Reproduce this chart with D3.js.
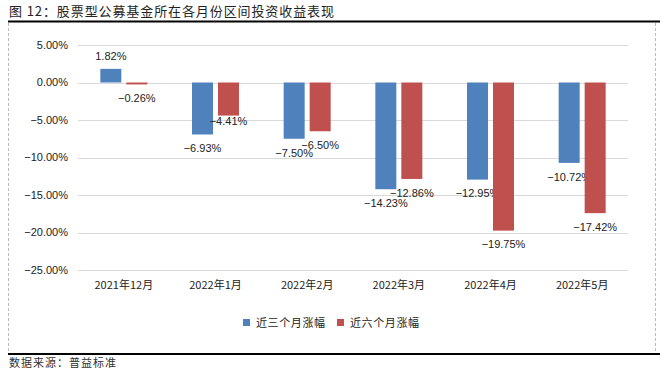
<!DOCTYPE html>
<html>
<head>
<meta charset="utf-8">
<script src="https://cdn.jsdelivr.net/npm/d3@7"></script>
<style>
  body { margin: 0; background: #fff; }
  svg { display: block; }
  text { font-family: "Liberation Sans", Arial, "Noto Sans CJK SC", sans-serif; }
  .cjk { font-family: "Noto Sans CJK SC", sans-serif; }
</style>
</head>
<body>
<div id="chart"></div>
<script>
// Chart data.
var months = ["2021年12月", "2022年1月", "2022年2月", "2022年3月", "2022年4月", "2022年5月"];
var seriesNames = ["近三个月涨幅", "近六个月涨幅"];
var threeMonth = [1.82, -6.93, -7.50, -14.23, -12.95, -10.72];
var sixMonth = [-0.26, -4.41, -6.50, -12.86, -19.75, -17.42];
var yTicks = [5, 0, -5, -10, -15, -20, -25];

// Configuration.
var width = 668,
    height = 374,
    plotLeft = 78,
    plotRight = 628,
    plotTop = 45,
    plotBottom = 270,
    barWidth = 21,
    barGap = 5,
    colors = ["#4F81BD", "#C0504D"];

var svg = d3.select("#chart").append("svg")
  .attr("width", width)
  .attr("height", height);

// Title and frame.
svg.append("text")
  .attr("class", "cjk")
  .attr("x", 9)
  .attr("y", 16)
  .attr("font-size", 13)
  .attr("letter-spacing", 0.9)
  .attr("fill", "#222")
  .text("图 12：股票型公募基金所在各月份区间投资收益表现");

svg.append("line")
  .attr("x1", 8).attr("x2", 660)
  .attr("y1", 21.5).attr("y2", 21.5)
  .attr("stroke", "#000").attr("stroke-width", 2);

svg.append("line")
  .attr("x1", 8).attr("x2", 660)
  .attr("y1", 354).attr("y2", 354)
  .attr("stroke", "#000").attr("stroke-width", 2);

[8.5, 655.5].forEach(function (x){
  svg.append("line")
    .attr("x1", x).attr("x2", x)
    .attr("y1", 23).attr("y2", 353)
    .attr("stroke", "#bbb")
    .attr("stroke-dasharray", "3,2");
});

svg.append("text")
  .attr("class", "cjk")
  .attr("x", 9)
  .attr("y", 367)
  .attr("font-size", 11)
  .attr("letter-spacing", 1)
  .attr("fill", "#333")
  .text("数据来源：普益标准");

// Scales.
var x = d3.scaleBand()
  .domain(months)
  .range([plotLeft, plotRight]);

var y = d3.scaleLinear()
  .domain([-25, 5])
  .range([plotBottom, plotTop]);

var pct = function (v){ return d3.format(".2f")(v).replace("-", "\u2212") + "%"; };

// Grid lines and y tick labels.
var grid = svg.append("g");
grid.selectAll("line")
  .data(yTicks)
  .enter().append("line")
    .attr("x1", plotLeft).attr("x2", plotRight)
    .attr("y1", function (d){ return Math.round(y(d)) + 0.5; })
    .attr("y2", function (d){ return Math.round(y(d)) + 0.5; })
    .attr("stroke", "#d9d9d9");

grid.selectAll("text")
  .data(yTicks)
  .enter().append("text")
    .attr("x", 68)
    .attr("y", function (d){ return y(d); })
    .attr("dy", "0.35em")
    .attr("text-anchor", "end")
    .attr("font-size", 11)
    .attr("fill", "#222")
    .text(pct);

// X labels.
svg.append("g").selectAll("text")
  .data(months)
  .enter().append("text")
    .attr("class", "cjk")
    .attr("x", function (d){ return x(d) + x.bandwidth() / 2; })
    .attr("y", 285)
    .attr("dy", "0.35em")
    .attr("text-anchor", "middle")
    .attr("font-size", 11)
    .attr("fill", "#222")
    .text(function (d){ return d; });

// Bars and value labels for each series.
[threeMonth, sixMonth].forEach(function (values, s){
  var offset = s === 0 ? -(barWidth + barGap / 2) : barGap / 2;
  var bx = function (d, i){ return x(months[i]) + x.bandwidth() / 2 + offset; };

  svg.append("g").selectAll("rect")
    .data(values)
    .enter().append("rect")
      .attr("x", bx)
      .attr("width", barWidth)
      .attr("y", function (d){ return y(Math.max(0, d)); })
      .attr("height", function (d){ return Math.abs(y(d) - y(0)); })
      .attr("fill", colors[s]);

  svg.append("g").selectAll("text")
    .data(values)
    .enter().append("text")
      .attr("x", function (d, i){ return bx(d, i) + barWidth / 2; })
      .attr("y", function (d, i){
        // the -4.41% label sits tighter to its bar in the original
        var pad = (s === 1 && i === 1) ? 6 : 14;
        return d >= 0 ? y(d) - 13 : y(d) + pad;
      })
      .attr("dy", "0.35em")
      .attr("text-anchor", "middle")
      .attr("font-size", 11)
      .attr("fill", "#222")
      .text(pct);
});

// Legend.
var legend = svg.append("g");
var legendX = [243, 337];
seriesNames.forEach(function (name, s){
  legend.append("rect")
    .attr("x", legendX[s]).attr("y", 319)
    .attr("width", 7).attr("height", 7)
    .attr("fill", colors[s]);
  legend.append("text")
    .attr("class", "cjk")
    .attr("x", legendX[s] + 13)
    .attr("y", 323)
    .attr("dy", "0.35em")
    .attr("font-size", 11)
    .attr("letter-spacing", 0.6)
    .attr("fill", "#222")
    .text(name);
});
</script>
</body>
</html>
